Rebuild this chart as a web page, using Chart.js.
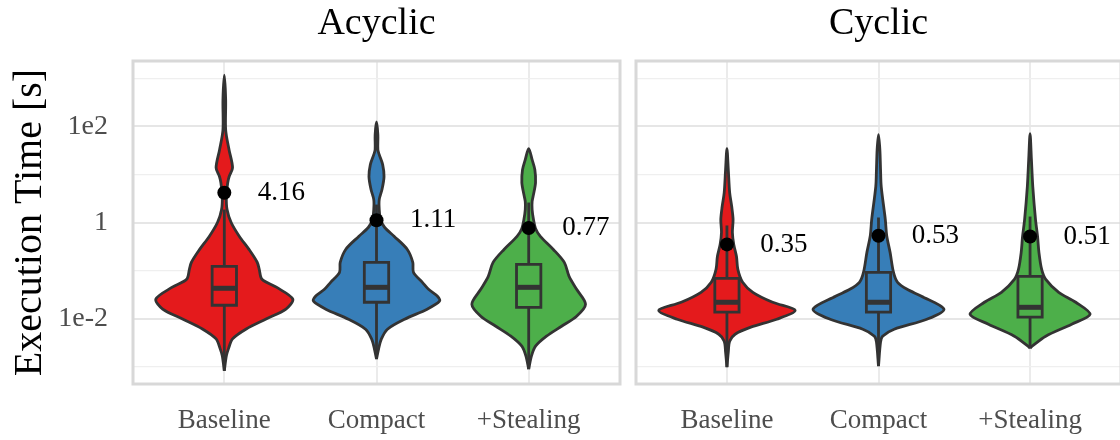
<!DOCTYPE html>
<html>
<head>
<meta charset="utf-8">
<script src="https://cdn.jsdelivr.net/npm/chart.js@4.4.1/dist/chart.umd.min.js"></script>
<style>
  html, body { margin: 0; padding: 0; background: #ffffff; overflow: hidden; }
  #wrap { position: relative; width: 1120px; height: 440px; overflow: hidden; }
  #cA { position: absolute; left: 0; top: 0; }
  #cC { position: absolute; left: 628px; top: 0; }
</style>
</head>
<body>
<div id="wrap">
  <canvas id="cA" width="628" height="440"></canvas>
  <canvas id="cC" width="500" height="440"></canvas>
</div>
<script>
// ---- categories and facets ----
const groups = ['Baseline', 'Compact', '+Stealing'];
const facets = ['Acyclic', 'Cyclic'];
const groupColors = ['#E41A1C', '#377EB8', '#4DAF4A'];

// ---- y axis ticks (log10 exponents) ----
const yGridExponents = [-3, -2, -1, 0, 1, 2, 3];
const yLabelExponents = [-2, 0, 2];
const yTickLabels = ['1e-2', '1', '1e2'];

// ---- violin density profiles: execution time [s] (ascending) and relative density ----
const acyclicBaselineTime = [0.000822, 0.00168, 0.00235, 0.00378, 0.00610, 0.00982, 0.0158, 0.0255, 0.0451, 0.0661, 0.106, 0.149, 0.276, 0.513, 1.0, 1.86, 3.45, 6.73, 8.95, 13.8, 32.4, 84.1, 352, 1160];
const acyclicBaselineDensity = [0, 0.03, 0.06, 0.12, 0.32, 0.61, 0.90, 1.00, 0.76, 0.55, 0.51, 0.48, 0.36, 0.22, 0.10, 0.04, 0.03, 0.05, 0.07, 0.12, 0.07, 0.02, 0.02, 0];

const acyclicCompactTime = [0.00144, 0.00232, 0.00374, 0.00603, 0.00972, 0.0157, 0.0230, 0.0292, 0.0407, 0.0569, 0.0918, 0.148, 0.275, 0.513, 0.787, 1.15, 1.86, 3.00, 4.84, 9.00, 16.0, 25.8, 32.7, 66.9, 124];
const acyclicCompactDensity = [0, 0.03, 0.07, 0.16, 0.41, 0.74, 0.92, 0.89, 0.76, 0.67, 0.54, 0.53, 0.45, 0.26, 0.12, 0.06, 0.04, 0.04, 0.08, 0.11, 0.09, 0.04, 0.02, 0.02, 0];

const acyclicStealingTime = [0.000891, 0.00166, 0.00267, 0.00432, 0.00695, 0.0112, 0.0199, 0.0407, 0.0759, 0.148, 0.275, 0.513, 0.751, 1.15, 1.86, 2.73, 3.81, 6.76, 12.6, 20.3, 34.3];
const acyclicStealingDensity = [0, 0.04, 0.10, 0.26, 0.48, 0.70, 0.83, 0.70, 0.59, 0.52, 0.36, 0.17, 0.10, 0.07, 0.05, 0.05, 0.07, 0.10, 0.09, 0.05, 0];

const cyclicBaselineTime = [0.000981, 0.00201, 0.00340, 0.00474, 0.00664, 0.00972, 0.0149, 0.0219, 0.0353, 0.0569, 0.106, 0.197, 0.350, 0.621, 1.15, 2.15, 4.19, 12.6, 34.3];
const cyclicBaselineDensity = [0, 0.02, 0.04, 0.12, 0.35, 0.73, 1.00, 0.67, 0.38, 0.23, 0.16, 0.14, 0.10, 0.08, 0.09, 0.07, 0.04, 0.02, 0];

const cyclicCompactTime = [0.00103, 0.00324, 0.00432, 0.00603, 0.00972, 0.0157, 0.0292, 0.0407, 0.0569, 0.0918, 0.239, 0.537, 1.15, 5.58, 12.6, 32.7, 66.9];
const cyclicCompactDensity = [0, 0.03, 0.06, 0.23, 0.71, 0.96, 0.63, 0.42, 0.28, 0.22, 0.17, 0.12, 0.10, 0.04, 0.03, 0.02, 0];

const cyclicStealingTime = [0.00243, 0.00267, 0.00432, 0.00766, 0.0123, 0.0219, 0.0353, 0.0657, 0.106, 0.239, 0.513, 1.15, 5.58, 20.3, 70.2];
const cyclicStealingDensity = [0, 0.03, 0.23, 0.61, 0.88, 0.67, 0.42, 0.23, 0.17, 0.13, 0.11, 0.08, 0.04, 0.02, 0];

// ---- box plot statistics [s] ----
const acyclicLow    = [0.000822, 0.00144, 0.000891];
const acyclicQ1     = [0.0190, 0.0219, 0.0172];
const acyclicMedian = [0.0428, 0.0448, 0.0448];
const acyclicQ3     = [0.122, 0.148, 0.135];
const acyclicHigh   = [1.86, 2.36, 2.60];

const cyclicLow    = [0.000981, 0.00103, 0.00243];
const cyclicQ1     = [0.0136, 0.0136, 0.0107];
const cyclicMedian = [0.0219, 0.0219, 0.0172];
const cyclicQ3     = [0.0689, 0.0918, 0.0759];
const cyclicHigh   = [0.867, 1.27, 1.33];

// ---- mean execution time [s] ----
const acyclicMeans = [4.16, 1.11, 0.77];
const cyclicMeans  = [0.35, 0.53, 0.51];

// ---- drawing constants ----
const SERIF = '"Liberation Serif", "DejaVu Serif", serif';
const OUTLINE = '#333333';
const LINE_W = 2.8;
const VIOLIN_HALF = 0.45;   // half width (category units) at relative density 1
const BOX_HALF = 0.08;
const LABEL_NUDGE = 0.22;

function violinOutline(c, times, dens) {
  const right = times.map((t, i) => ({ x: c + dens[i] * VIOLIN_HALF, y: t }));
  const left = [];
  for (let i = times.length - 2; i >= 0; i--) left.push({ x: c - dens[i] * VIOLIN_HALF, y: times[i] });
  return right.concat(left);
}

function buildDatasets(profiles, low, q1, med, q3, high, means) {
  const sets = [];
  profiles.forEach((p, i) => {
    const c = i + 1;
    const col = groupColors[i];
    sets.push({
      data: violinOutline(c, p[0], p[1]), fill: 'shape', backgroundColor: col,
      borderColor: OUTLINE, borderWidth: LINE_W, tension: 0.3, pointRadius: 0, order: 5
    });
    sets.push({
      data: [{ x: c, y: low[i] }, { x: c, y: high[i] }], fill: false,
      borderColor: OUTLINE, borderWidth: LINE_W, pointRadius: 0, order: 4
    });
    sets.push({
      data: [
        { x: c - BOX_HALF, y: q1[i] }, { x: c + BOX_HALF, y: q1[i] },
        { x: c + BOX_HALF, y: q3[i] }, { x: c - BOX_HALF, y: q3[i] },
        { x: c - BOX_HALF, y: q1[i] }
      ],
      fill: 'shape', backgroundColor: col, borderColor: OUTLINE, borderWidth: LINE_W,
      borderJoinStyle: 'miter', borderCapStyle: 'square', tension: 0, pointRadius: 0, order: 3
    });
    sets.push({
      data: [{ x: c - BOX_HALF, y: med[i] }, { x: c + BOX_HALF, y: med[i] }], fill: false,
      borderColor: OUTLINE, borderWidth: 5, pointRadius: 0, order: 2
    });
    sets.push({
      data: [{ x: c, y: means[i] }], showLine: false, pointRadius: 7,
      pointBackgroundColor: '#000000', pointBorderWidth: 0, order: 1
    });
  });
  return sets;
}

function makePlugins(means) {
  return [{
    id: 'panelDecor',
    afterDatasetsDraw(chart) {
      const { ctx, chartArea: a, scales: { x, y } } = chart;
      ctx.save();
      ctx.font = '27px ' + SERIF;
      ctx.fillStyle = '#000000';
      ctx.textAlign = 'left';
      ctx.textBaseline = 'middle';
      means.forEach((m, i) => {
        ctx.fillText(m.toFixed(2), x.getPixelForValue(i + 1 + LABEL_NUDGE), y.getPixelForValue(m));
      });
      ctx.strokeStyle = '#d8d8d8';
      ctx.lineWidth = 3;
      ctx.strokeRect(a.left, a.top, a.right - a.left, a.bottom - a.top);
      ctx.restore();
    }
  }];
}

function facetChart(id, title, datasets, means, showY, yWidth, padRight) {
  return new Chart(document.getElementById(id), {
    type: 'line',
    data: { datasets },
    plugins: makePlugins(means),
    options: {
      responsive: false,
      animation: false,
      devicePixelRatio: 1,
      layout: { padding: { left: 0, right: padRight, top: 0, bottom: 0 } },
      plugins: {
        legend: { display: false },
        tooltip: { enabled: false },
        title: {
          display: true, text: title, fullSize: false, color: '#000000',
          font: { family: SERIF, size: 38, weight: 'normal', lineHeight: 1.2 },
          padding: { top: 1, bottom: 14.4 }
        }
      },
      scales: {
        x: {
          type: 'linear', min: 0.4, max: 3.6,
          afterBuildTicks: s => { s.ticks = groups.map((g, i) => ({ value: i + 1 })); },
          afterFit: s => { s.height = 56; },
          grid: { color: '#ebebeb', lineWidth: 2, drawTicks: false },
          border: { display: false },
          ticks: {
            autoSkip: false, maxRotation: 0, padding: 21, color: '#4d4d4d',
            font: { family: SERIF, size: 27 },
            callback: v => groups[Math.round(v) - 1]
          }
        },
        y: {
          type: 'logarithmic', min: Math.pow(10, -3.36), max: Math.pow(10, 3.36),
          afterBuildTicks: s => { s.ticks = yGridExponents.map(e => ({ value: Math.pow(10, e) })); },
          afterFit: s => { s.width = yWidth; },
          grid: {
            drawTicks: false,
            color: c => yLabelExponents.includes(Math.round(Math.log10(c.tick.value))) ? '#e6e6e6' : '#efefef',
            lineWidth: c => yLabelExponents.includes(Math.round(Math.log10(c.tick.value))) ? 2 : 1.3
          },
          border: { display: false },
          ticks: {
            display: showY, autoSkip: false, padding: 25, color: '#4d4d4d',
            font: { family: SERIF, size: 28 },
            callback: v => {
              const k = yLabelExponents.indexOf(Math.round(Math.log10(v)));
              return k >= 0 ? yTickLabels[k] : '';
            }
          },
          title: {
            display: showY, text: 'Execution Time [s]', color: '#000000',
            font: { family: SERIF, size: 40 }, padding: { top: 6, bottom: 0 }
          }
        }
      }
    }
  });
}

facetChart('cA', facets[0], buildDatasets(
  [[acyclicBaselineTime, acyclicBaselineDensity], [acyclicCompactTime, acyclicCompactDensity], [acyclicStealingTime, acyclicStealingDensity]],
  acyclicLow, acyclicQ1, acyclicMedian, acyclicQ3, acyclicHigh, acyclicMeans), acyclicMeans, true, 133, 8);

facetChart('cC', facets[1], buildDatasets(
  [[cyclicBaselineTime, cyclicBaselineDensity], [cyclicCompactTime, cyclicCompactDensity], [cyclicStealingTime, cyclicStealingDensity]],
  cyclicLow, cyclicQ1, cyclicMedian, cyclicQ3, cyclicHigh, cyclicMeans), cyclicMeans, false, 8, 6);
</script>
</body>
</html>
